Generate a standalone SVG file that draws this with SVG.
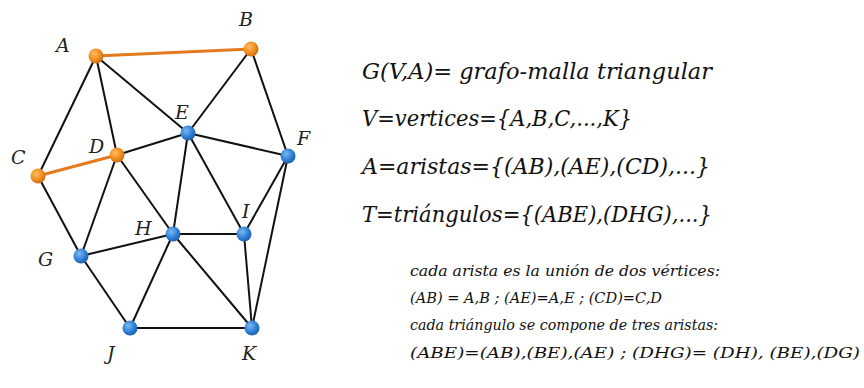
<svg xmlns="http://www.w3.org/2000/svg" width="864" height="388" viewBox="0 0 864 388">
<defs>
<radialGradient id="gOr" cx="0.38" cy="0.35" r="0.7">
<stop offset="0" stop-color="#ffc060"/>
<stop offset="0.6" stop-color="#f08a20"/>
<stop offset="1" stop-color="#c86a10"/>
</radialGradient>
<radialGradient id="gBl" cx="0.38" cy="0.35" r="0.7">
<stop offset="0" stop-color="#7ab8f0"/>
<stop offset="0.6" stop-color="#2f7fd6"/>
<stop offset="1" stop-color="#1a5aa8"/>
</radialGradient>
<style>
.e{stroke:#111;stroke-width:2;fill:none}
.o{stroke:#e47a1e;stroke-width:3;fill:none}
.no{fill:url(#gOr)}
.nb{fill:url(#gBl)}
text{font-family:"DejaVu Serif",serif;font-style:italic}
.lb{font-size:19px;fill:#222}
.big{font-size:22px;fill:#111}
.sm{font-size:15px;fill:#111}
</style>
</defs>
<rect width="864" height="388" fill="#fff"/>
<g id="connectors">
<line class="e" x1="96" y1="56" x2="38" y2="176"/>
<line class="e" x1="96" y1="56" x2="117" y2="155"/>
<line class="e" x1="96" y1="56" x2="188" y2="133"/>
<line class="e" x1="251" y1="49" x2="188" y2="133"/>
<line class="e" x1="251" y1="49" x2="288" y2="156"/>
<line class="e" x1="38" y1="176" x2="81" y2="256"/>
<line class="e" x1="117" y1="155" x2="188" y2="133"/>
<line class="e" x1="117" y1="155" x2="81" y2="256"/>
<line class="e" x1="117" y1="155" x2="173" y2="234"/>
<line class="e" x1="188" y1="133" x2="288" y2="156"/>
<line class="e" x1="188" y1="133" x2="173" y2="234"/>
<line class="e" x1="188" y1="133" x2="244" y2="234"/>
<line class="e" x1="288" y1="156" x2="244" y2="234"/>
<line class="e" x1="288" y1="156" x2="252" y2="328"/>
<line class="e" x1="81" y1="256" x2="173" y2="234"/>
<line class="e" x1="81" y1="256" x2="130" y2="328"/>
<line class="e" x1="173" y1="234" x2="244" y2="234"/>
<line class="e" x1="173" y1="234" x2="130" y2="328"/>
<line class="e" x1="173" y1="234" x2="252" y2="328"/>
<line class="e" x1="244" y1="234" x2="252" y2="328"/>
<line class="e" x1="130" y1="328" x2="252" y2="328"/>
<line class="o" x1="96" y1="56" x2="251" y2="49"/>
<line class="o" x1="38" y1="176" x2="117" y2="155"/>
</g>
<g id="A"><circle class="no" cx="96" cy="56" r="7.5"/><text class="lb" x="56" y="52">A</text></g>
<g id="B"><circle class="no" cx="251" cy="49" r="7.5"/><text class="lb" x="239" y="26">B</text></g>
<g id="C"><circle class="no" cx="38" cy="176" r="7.5"/><text class="lb" x="11" y="164">C</text></g>
<g id="D"><circle class="no" cx="117" cy="155" r="7.5"/><text class="lb" x="89" y="153">D</text></g>
<g id="E"><circle class="nb" cx="188" cy="133" r="7.5"/><text class="lb" x="175" y="119">E</text></g>
<g id="F"><circle class="nb" cx="288" cy="156" r="7.5"/><text class="lb" x="297" y="145">F</text></g>
<g id="G"><circle class="nb" cx="81" cy="256" r="7.5"/><text class="lb" x="38" y="266">G</text></g>
<g id="H"><circle class="nb" cx="173" cy="234" r="7.5"/><text class="lb" x="135" y="235">H</text></g>
<g id="I"><circle class="nb" cx="244" cy="234" r="7.5"/><text class="lb" x="242" y="218">I</text></g>
<g id="J"><circle class="nb" cx="130" cy="328" r="7.5"/><text class="lb" x="107" y="360">J</text></g>
<g id="K"><circle class="nb" cx="252" cy="328" r="7.5"/><text class="lb" x="242" y="360">K</text></g>
<g id="text">
<text class="big" x="362" y="79" textLength="350" lengthAdjust="spacingAndGlyphs">G(V,A)= grafo-malla triangular</text>
<text class="big" x="362" y="126" textLength="270" lengthAdjust="spacingAndGlyphs">V=vertices={A,B,C,...,K}</text>
<text class="big" x="362" y="174" textLength="348" lengthAdjust="spacingAndGlyphs">A=aristas={(AB),(AE),(CD),...}</text>
<text class="big" x="362" y="222" textLength="350" lengthAdjust="spacingAndGlyphs">T=triángulos={(ABE),(DHG),...}</text>
<text class="sm" x="410" y="276" textLength="310" lengthAdjust="spacingAndGlyphs">cada arista es la unión de dos vértices:</text>
<text class="sm" x="410" y="303" textLength="252" lengthAdjust="spacingAndGlyphs">(AB) = A,B ; (AE)=A,E ; (CD)=C,D</text>
<text class="sm" x="410" y="330" textLength="308" lengthAdjust="spacingAndGlyphs">cada triángulo se compone de tres aristas:</text>
<text class="sm" x="410" y="358" font-size="16.5" textLength="450" lengthAdjust="spacingAndGlyphs">(ABE)=(AB),(BE),(AE) ; (DHG)= (DH), (BE),(DG)</text>
</g>
</svg>
